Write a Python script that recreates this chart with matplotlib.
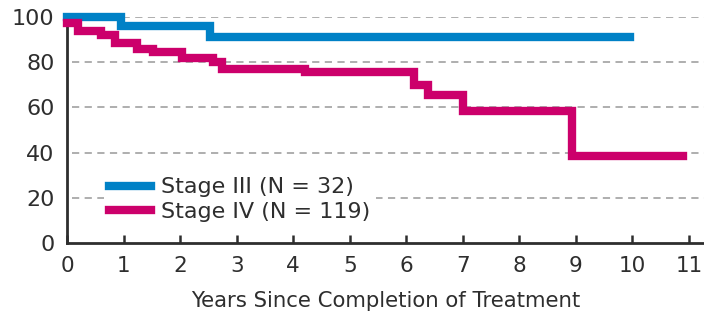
import matplotlib.pyplot as plt

# Kaplan-Meier style step data
stage3_years = [0, 0.95, 2.53, 9.95]
stage3_surv = [100, 96, 91, 91]

stage4_years = [0, 0.2, 0.61, 0.85, 1.23, 1.52, 2.03, 2.59, 2.74, 4.21,
                6.13, 6.38, 7.01, 8.93, 10.9]
stage4_surv = [97.5, 94, 92, 88.5, 86, 84.5, 82, 80, 77, 75.5,
               70, 65.5, 58.5, 38.5, 38.5]

x_ticks = list(range(0, 12))
y_ticks = [0, 20, 40, 60, 80, 100]

blue = "#0081c6"
magenta = "#cc006b"
text_col = "#2e2e2e"

plt.rcParams['font.family'] = ['DejaVu Sans']

fig = plt.figure(figsize=(7.04, 3.16), dpi=100)
ax = fig.add_axes([67 / 704, 1 - 243 / 316, 1 - 67 / 704, (243 - 17) / 316])

ax.step(stage3_years, stage3_surv, where='post', color=blue, lw=6,
        label="Stage III (N = 32)", clip_on=False, solid_joinstyle='miter', zorder=3)
ax.step(stage4_years, stage4_surv, where='post', color=magenta, lw=6,
        label="Stage IV (N = 119)", clip_on=False, solid_joinstyle='miter', zorder=3)

ax.set_xlim(0, 11 * 637 / 622)
ax.set_ylim(0, 100)
ax.set_xticks(x_ticks)
ax.set_yticks(y_ticks)

for y in y_ticks[1:]:
    ax.axhline(y, xmin=5 / 637, color="#a8a8a8", lw=1.3, ls=(0, (4, 3)), zorder=1)

for s in ['top', 'right']:
    ax.spines[s].set_visible(False)
for s in ['left', 'bottom']:
    ax.spines[s].set_color(text_col)
    ax.spines[s].set_linewidth(2)

ax.tick_params(axis='x', direction='in', length=6, width=1.8, color=text_col,
               labelsize=15.5, labelcolor=text_col, pad=9)
ax.tick_params(axis='y', length=0, labelsize=16, labelcolor=text_col, pad=9)

ax.set_xlabel("Years Since Completion of Treatment", fontsize=15.3,
              color=text_col, labelpad=11)

leg = ax.legend(loc='lower left', bbox_to_anchor=(0.04, 0.02), fontsize=16,
                frameon=True, facecolor='white', edgecolor='none', framealpha=1,
                handlelength=1.9, handletextpad=0.45, borderpad=0.25,
                labelspacing=0.2)
for t in leg.get_texts():
    t.set_color(text_col)
leg.set_zorder(5)

fig.savefig("out.png", dpi=100)
